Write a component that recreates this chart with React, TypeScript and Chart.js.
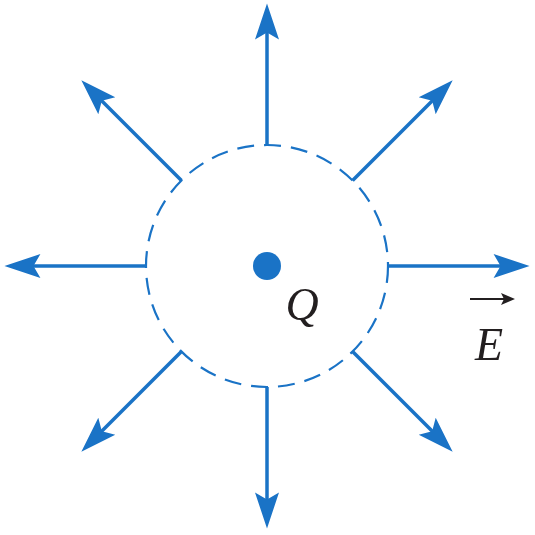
import { useEffect, useRef } from "react";
import { Chart, registerables } from "chart.js";

Chart.register(...registerables);

// field diagram of a point charge, in units of the dashed circle's radius
const rayAngles = [0, 45, 90, 135, 180, 225, 270, 315];
const innerRadius = 1;
const outerRadius = 2.17;
const circleRadius = 1;
const chargeLabel = "Q";
const fieldLabel = "E";

const BLUE = "#1a73c6";

const rad = (d: number) => (d * Math.PI) / 180;

const diagramPlugin = {
  id: "diagram",
  afterDatasetsDraw(chart: Chart) {
    const { ctx } = chart;
    const x = chart.scales.x;
    const y = chart.scales.y;
    const cx = x.getPixelForValue(0);
    const cy = y.getPixelForValue(0);
    const r = x.getPixelForValue(circleRadius) - cx;
    ctx.save();
    // dashed circle
    ctx.strokeStyle = BLUE;
    ctx.lineWidth = 2.2;
    ctx.setLineDash([17, 10]);
    ctx.beginPath();
    ctx.arc(cx, cy, r, 0, Math.PI * 2);
    ctx.stroke();
    ctx.setLineDash([]);
    // arrowheads
    ctx.fillStyle = BLUE;
    rayAngles.forEach((a) => {
      const tx = x.getPixelForValue(outerRadius * Math.cos(rad(a)));
      const ty = y.getPixelForValue(outerRadius * Math.sin(rad(a)));
      const ang = Math.atan2(ty - cy, tx - cx);
      ctx.save();
      ctx.translate(tx, ty);
      ctx.rotate(ang);
      ctx.beginPath();
      ctx.moveTo(0, 0);
      ctx.lineTo(-36, -12);
      ctx.lineTo(-29, 0);
      ctx.lineTo(-36, 12);
      ctx.closePath();
      ctx.fill();
      ctx.restore();
    });
    // charge
    ctx.beginPath();
    ctx.arc(cx, cy, 14, 0, Math.PI * 2);
    ctx.fill();
    // labels
    ctx.fillStyle = "#231f20";
    ctx.font = "italic 46px 'Liberation Serif', 'DejaVu Serif', serif";
    ctx.textAlign = "center";
    ctx.textBaseline = "alphabetic";
    ctx.fillText(chargeLabel, cx + 35, cy + 54);
    ctx.fillText(fieldLabel, cx + 222, cy + 94);
    // vector arrow above E
    ctx.strokeStyle = "#231f20";
    ctx.lineWidth = 2;
    ctx.beginPath();
    ctx.moveTo(cx + 203, cy + 33);
    ctx.lineTo(cx + 240, cy + 33);
    ctx.stroke();
    ctx.beginPath();
    ctx.moveTo(cx + 248, cy + 33);
    ctx.lineTo(cx + 234, cy + 27);
    ctx.lineTo(cx + 237, cy + 33);
    ctx.lineTo(cx + 234, cy + 39);
    ctx.closePath();
    ctx.fill();
    ctx.restore();
  },
};

export default function App() {
  const canvasRef = useRef<HTMLCanvasElement>(null);

  useEffect(() => {
    if (!canvasRef.current) return;
    const datasets = rayAngles.map((a) => ({
      data: [
        { x: innerRadius * Math.cos(rad(a)), y: innerRadius * Math.sin(rad(a)) },
        { x: (outerRadius - 0.2) * Math.cos(rad(a)), y: (outerRadius - 0.2) * Math.sin(rad(a)) },
      ],
      showLine: true,
      borderColor: BLUE,
      borderWidth: 3.5,
      pointRadius: 0,
    }));
    const chart = new Chart(canvasRef.current, {
      type: "scatter",
      data: { datasets },
      options: {
        animation: false,
        responsive: false,
        layout: { padding: 0 },
        scales: {
          x: { display: false, min: -267 / 121, max: 268 / 121 },
          y: { display: false, min: -269 / 121, max: 266 / 121 },
        },
        plugins: { legend: { display: false }, tooltip: { enabled: false } },
      },
      plugins: [diagramPlugin],
    });
    return () => chart.destroy();
  }, []);

  return (
    <div style={{ position: "fixed", left: 0, top: 0, width: 535, height: 535, background: "#fff" }}>
      <canvas ref={canvasRef} width={535} height={535} />
    </div>
  );
}
